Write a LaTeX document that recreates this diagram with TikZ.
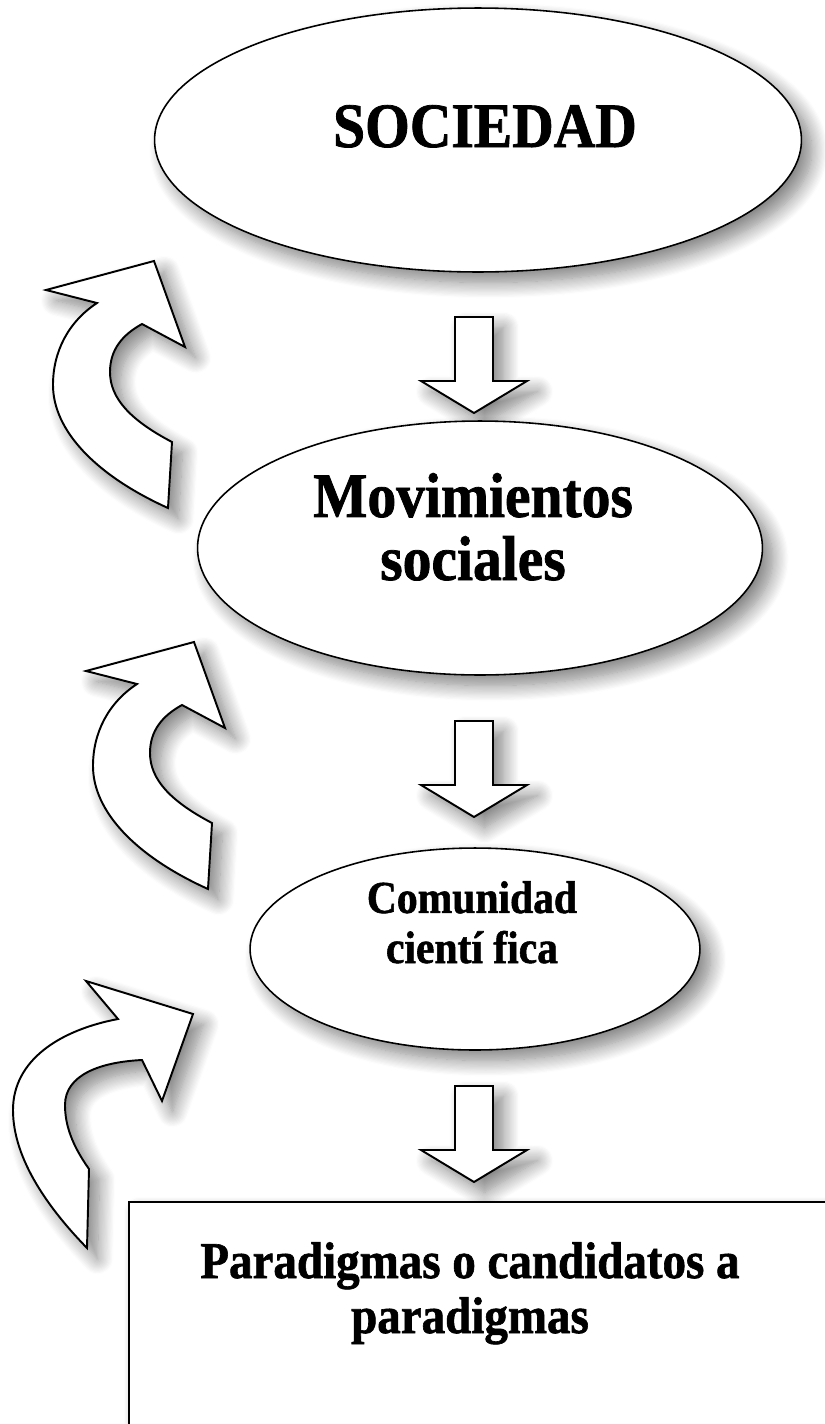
\documentclass[tikz,border=0pt]{standalone}
\usepackage{fontspec}
\setmainfont{Liberation Serif}
\newfontfamily\labelfont[FakeStretch=0.91,FakeBold=1.2]{Liberation Serif Bold}
\usetikzlibrary{shapes.geometric,shadows.blur}

\tikzset{
  softshadow/.style={blur shadow={shadow xshift=6pt,shadow yshift=-6pt,shadow blur radius=9pt,shadow blur steps=14,shadow opacity=50}},
  bubble/.style={ellipse,draw,line width=0.9pt,fill=white,inner sep=0pt,softshadow},
  blockline/.style={draw,line width=1.1pt,fill=white,line join=miter,softshadow},
  downarrow/.pic={
    \path[blockline] (-19,0) -- (19,0) -- (19,64) -- (53,64) -- (0,96) -- (-53,64) -- (-19,64) -- cycle;
  },
  turnarrow/.pic={
    \path[blockline] (-57,42) .. controls (-86,61) and (-101,91) .. (-101,124)
      .. controls (-101,169) and (-59,214) .. (14,247) -- (18,181)
      .. controls (-24,159) and (-44,137) .. (-44,111)
      .. controls (-44,89) and (-32,74) .. (-12,63) -- (31,86) -- (0,0) -- (-108,29) -- cycle;
  }
}

\begin{document}
\begin{tikzpicture}[x=0.02cm,y=-0.02cm]
    \useasboundingbox (0,0) rectangle (825,1424);
    \clip (0,0) rectangle (825,1424);

    % curved arrows on the left
    \pic (turn1) at (154,261) {turnarrow};
    \pic (turn2) at (194,642) {turnarrow};
    \path[blockline] (118,1019) .. controls (60,1030) and (13,1060) .. (13,1110)
      .. controls (13,1160) and (50,1210) .. (87,1248) -- (89,1169)
      .. controls (72,1145) and (65,1125) .. (65,1105)
      .. controls (65,1075) and (100,1062) .. (142,1060) -- (162,1101) -- (193,1014) -- (86,981) -- cycle;

    % levels
    \node[bubble,minimum width=12.94cm,minimum height=5.28cm] (soc) at (478,140) {};
    \node[font=\labelfont\fontsize{36}{39}\selectfont,anchor=base] (soctext) at (485,147) {SOCIEDAD};

    \pic (down1) at (474,317) {downarrow};

    \node[bubble,minimum width=11.3cm,minimum height=5.08cm] (mov) at (480,548) {};
    \node[font=\labelfont\fontsize{36}{35.9}\selectfont,align=center,anchor=base] (movtext) at (473,580) {Movimientos\\sociales};

    \pic (down2) at (474,721) {downarrow};

    \node[bubble,minimum width=9cm,minimum height=4.04cm] (com) at (475,949) {};
    \node[font=\labelfont\fontsize{26}{28.5}\selectfont,align=center,anchor=base] (comtext) at (472,963) {Comunidad\\cientí fica};

    \pic (down3) at (474,1086) {downarrow};

    \node[draw,line width=1.2pt,fill=white,softshadow,anchor=north west,
          minimum width=14.1cm,minimum height=4.7cm] (para) at (128,1201) {};
    \node[font=\labelfont\fontsize{29.4}{31.3}\selectfont,align=center,anchor=base] (paratext) at (470,1333) {Paradigmas o candidatos a\\paradigmas};
\end{tikzpicture}
\end{document}
